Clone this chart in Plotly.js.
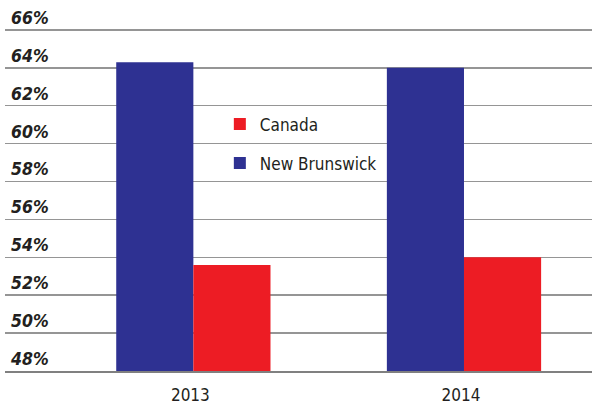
<!DOCTYPE html>
<html>
<head>
<meta charset="utf-8">
<script src="https://cdn.plot.ly/plotly-3.0.1.min.js"></script>
<style>
  html, body { margin: 0; padding: 0; background: #fff; }
  #chart { width: 592px; height: 405px; }
</style>
</head>
<body>
<div id="chart"></div>
<script>
// Data
const years = ['2013', '2014'];
const newBrunswick = [64.3, 64.0];
const canada = [53.6, 54.0];
const seriesNames = ['New Brunswick', 'Canada'];
const yTickVals = [48, 50, 52, 54, 56, 58, 60, 62, 64, 66];
const yTickText = ['48%', '50%', '52%', '54%', '56%', '58%', '60%', '62%', '64%', '66%'];

const BLUE = '#2e3192';
const RED = '#ed1c24';
const FONT = '"DejaVu Sans Condensed", "Liberation Sans Narrow", sans-serif';

const traces = [
  {
    type: 'bar', name: seriesNames[0], x: years, y: newBrunswick,
    marker: { color: BLUE, line: { width: 0 } }, legendgroup: 'nb', legendrank: 2, hoverinfo: 'none'
  },
  {
    type: 'bar', name: seriesNames[1], x: years, y: canada,
    marker: { color: RED, line: { width: 0 } }, legendgroup: 'ca', legendrank: 1, hoverinfo: 'none'
  }
];

const layout = {
  width: 592, height: 405,
  margin: { l: 5, r: 0, t: 11, b: 34, pad: 0 },
  paper_bgcolor: '#ffffff', plot_bgcolor: '#ffffff',
  barmode: 'group', bargap: 0.43, bargroupgap: 0,
  showlegend: true,
  legend: {
    x: 0.366, xanchor: 'left', y: 0.735, yanchor: 'top',
    traceorder: 'grouped', tracegroupgap: 14,
    bgcolor: 'rgba(0,0,0,0)', borderwidth: 0,
    font: { family: FONT, size: 17, color: '#231f20' }
  },
  xaxis: {
    type: 'category', range: [-0.696, 1.473],
    showgrid: false, zeroline: false,
    showline: true, linecolor: '#808080', linewidth: 2,
    ticks: '', ticklabelstandoff: 8, ticklabelshift: -3,
    tickfont: { family: FONT, size: 17, color: '#231f20' },
    fixedrange: true
  },
  yaxis: {
    range: [48, 67],
    tickvals: yTickVals, ticktext: yTickText,
    showgrid: true, gridcolor: '#959595', gridwidth: 1.5,
    zeroline: false, showline: false, ticks: '',
    ticklabelposition: 'inside top', ticklabeloverflow: 'allow', ticklabelstandoff: 3,
    tickfont: { family: FONT, size: 17.5, color: '#231f20', weight: 'bold', style: 'italic' },
    fixedrange: true
  }
};

Plotly.newPlot('chart', traces, layout, { displayModeBar: false, staticPlot: true });
</script>
</body>
</html>
